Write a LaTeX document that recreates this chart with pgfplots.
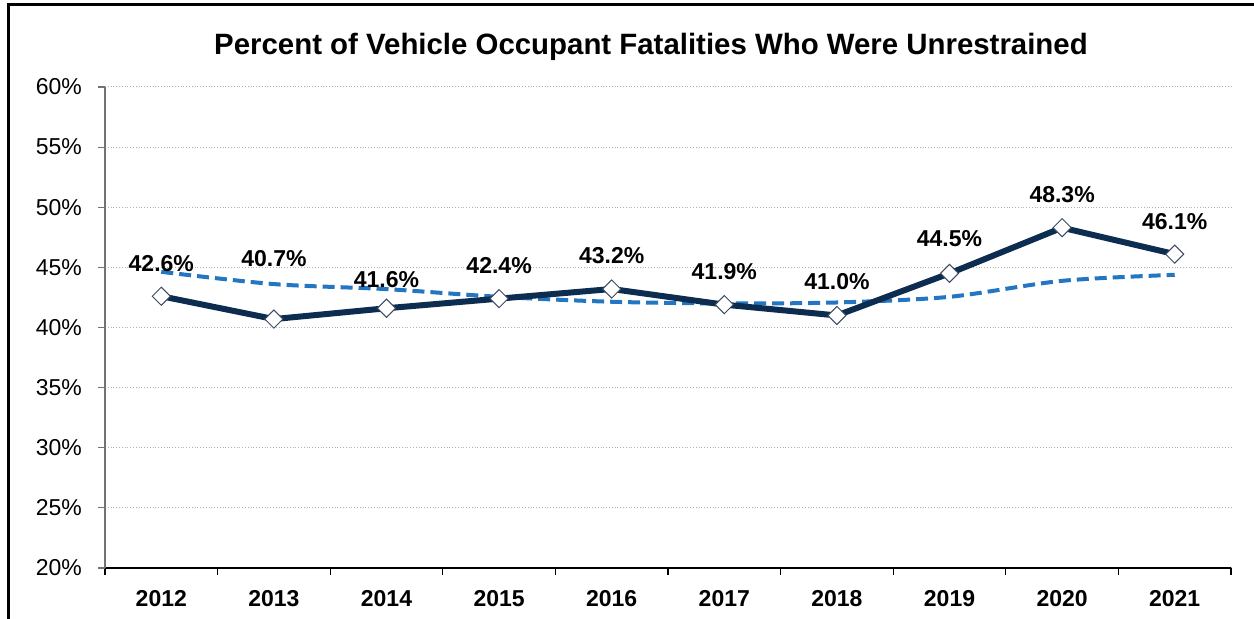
\documentclass[border=0pt]{standalone}
\usepackage{fontspec}
\setmainfont{Liberation Sans}
\usepackage{pgfplots}
\pgfplotsset{compat=1.18}
\usepackage{pgfplotstable}
\definecolor{navy}{HTML}{0C2D4F}
\definecolor{trend}{HTML}{2475C2}
\definecolor{mk}{HTML}{3C4A60}
\pgfplotstableread{
x y
0 42.6
1 40.7
2 41.6
3 42.4
4 43.2
5 41.9
6 41.0
7 44.5
8 48.3
9 46.1
}\maintab
\pgfplotstableread{
x y
0 44.63
1 43.61
2 43.19
3 42.55
4 42.14
5 42.00
6 42.08
7 42.55
8 43.88
9 44.38
}\trendtab
\pgfplotstableread{
x y lab
0 45.30 42.6
1 45.73 40.7
2 43.98 41.6
3 45.19 42.4
4 46.02 43.2
5 44.65 41.9
6 43.82 41.0
7 47.35 44.5
8 51.05 48.3
9 48.84 46.1
}\labtab
\begin{document}
\begin{tikzpicture}[x=1pt,y=1pt]
\useasboundingbox (0,0) rectangle (627,309.5);
\draw[line width=1.25pt] (4.35,-20) -- (4.35,307.35) -- (660,307.35);
\node[anchor=base, font=\fontsize{14.7}{16}\selectfont\bfseries] at (325.5,282) {Percent of Vehicle Occupant Fatalities Who Were Unrestrained};
\begin{axis}[
  at={(52.5pt,25.5pt)}, anchor=south west,
  scale only axis, width=563pt, height=240.5pt,
  xmin=-0.5, xmax=9.5, ymin=20, ymax=60,
  axis x line=bottom, axis y line=left,
  axis line style={-},
  x axis line style={black, line width=0.6pt},
  y axis line style={black!55, line width=0.6pt},
  xtick={-0.5,0.5,...,9.5},
  xticklabels={},
  extra x ticks={0,1,2,3,4,5,6,7,8,9},
  extra x tick labels={2012,2013,2014,2015,2016,2017,2018,2019,2020,2021},
  extra x tick style={major tick length=0pt, xmajorgrids=false,
    xticklabel style={font=\fontsize{11.5}{13}\selectfont\bfseries, yshift=-7.5pt}},
  xtick style={black, line width=0.6pt},
  tick align=outside,
  major tick length=3.5pt,
  ytick={20,25,...,60},
  yticklabel={\pgfmathprintnumber{\tick}\%},
  ytick style={black!55, line width=0.6pt},
  ymajorgrids, grid style={densely dotted, black!30, line width=0.5pt},
  yticklabel style={font=\fontsize{11.5}{13}\selectfont, xshift=-4.5pt},
  /pgf/number format/assume math mode=true,
  clip=false,
]
\addplot[trend, line width=2pt, dash pattern=on 6pt off 3pt, smooth] table[x=x,y=y] {\trendtab};
\addplot[navy, line width=3pt, mark=square*, mark size=3.2pt,
  mark options={rotate=45, fill=white, draw=mk, line width=0.5pt, solid}] table[x=x,y=y] {\maintab};
\addplot[draw=none, mark=none, point meta=explicit symbolic,
  nodes near coords={\pgfplotspointmeta\%},
  every node near coord/.append style={anchor=center, inner sep=0pt,
    font=\fontsize{11.5}{13}\selectfont\bfseries}] table[x=x,y=y,meta=lab] {\labtab};
\end{axis}
\end{tikzpicture}
\end{document}
